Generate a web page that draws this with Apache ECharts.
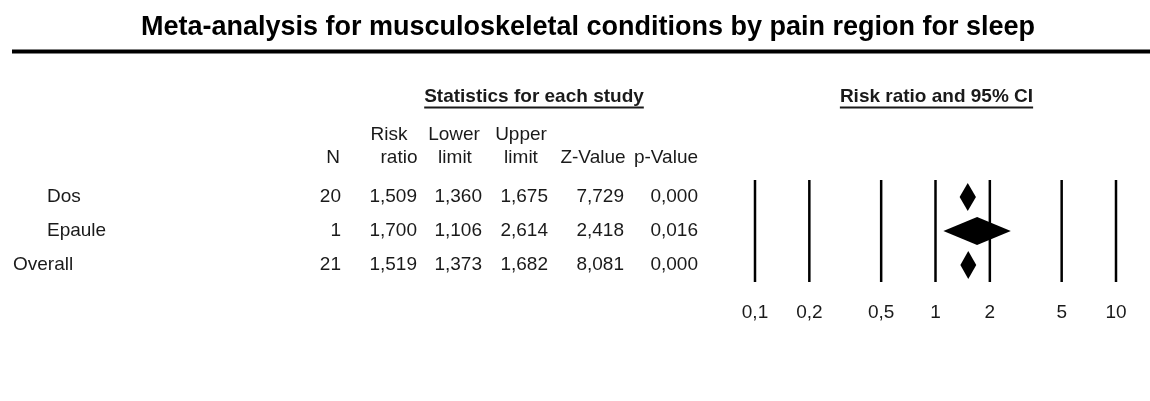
<!DOCTYPE html>
<html><head><meta charset="utf-8">
<script src="https://cdn.jsdelivr.net/npm/echarts@6/dist/echarts.min.js"></script>
<style>html,body{margin:0;padding:0;background:#fff}#c{width:1150px;height:401px}</style>
</head><body><div id="c"></div>
<script>
const chartTitle = 'Meta-analysis for musculoskeletal conditions by pain region for sleep';
const blockTitleStats = 'Statistics for each study';
const blockTitlePlot = 'Risk ratio and 95% CI';
const studies = ['Dos', 'Epaule', 'Overall'];
const isSubgroup = [true, true, false];
const nValues = [20, 1, 21];
const riskRatio = [1.509, 1.700, 1.519];
const lowerLimit = [1.360, 1.106, 1.373];
const upperLimit = [1.675, 2.614, 1.682];
const zValues = [7.729, 2.418, 8.081];
const pValues = [0.000, 0.016, 0.000];
const headLine1 = ['', 'Risk', 'Lower', 'Upper', '', ''];
const headLine2 = ['N', 'ratio', 'limit', 'limit', 'Z-Value', 'p-Value'];
const axisTicks = [0.1, 0.2, 0.5, 1, 2, 5, 10];
const axisTickLabels = ['0,1', '0,2', '0,5', '1', '2', '5', '10'];

const FONT = '"Liberation Sans", Arial, sans-serif';
const TXT = '#1a1a1a';
const fmt = v => v.toFixed(3).replace('.', ',');
const colRight = [341, 417, 482, 548, 624, 698];
const colHead1Center = [333, 389, 454, 521, 593, 666];
const colHead2Center = [333, 399, 455, 521, 593, 666];

function textWidth(t, font) {
  const c = document.createElement('canvas').getContext('2d');
  c.font = font; return c.measureText(t).width;
}

const chart = echarts.init(document.getElementById('c'), null, {renderer: 'canvas'});

const graphics = [];
graphics.push({type: 'text', x: 588, y: 28, style: {text: chartTitle, font: 'bold 27px ' + FONT, fill: '#000', align: 'center', verticalAlign: 'middle'}});
graphics.push({type: 'rect', shape: {x: 12, y: 49.5, width: 1138, height: 4}, style: {fill: '#000'}});
[[blockTitleStats, 534], [blockTitlePlot, 936.5]].forEach(([t, cx]) => {
  const w = textWidth(t, 'bold 19px ' + FONT);
  graphics.push({type: 'text', x: cx, y: 97, style: {text: t, font: 'bold 19px ' + FONT, fill: TXT, align: 'center', verticalAlign: 'middle'}});
  graphics.push({type: 'rect', shape: {x: cx - w / 2, y: 106.5, width: w, height: 2}, style: {fill: TXT}});
});
headLine1.forEach((t, i) => { if (t) graphics.push({type: 'text', x: colHead1Center[i], y: 135, style: {text: t, font: '19px ' + FONT, fill: TXT, align: 'center', verticalAlign: 'middle'}}); });
headLine2.forEach((t, i) => { graphics.push({type: 'text', x: colHead2Center[i], y: 158, style: {text: t, font: '19px ' + FONT, fill: TXT, align: 'center', verticalAlign: 'middle'}}); });

const tableData = studies.map((s, i) => [i + 0.5, i]);
const diamondData = studies.map((s, i) => [riskRatio[i], i + 0.5, lowerLimit[i], upperLimit[i]]);
const tickData = axisTicks.map((v, i) => [v, i]);

chart.setOption({
  animation: false,
  grid: {left: 755, width: 361, top: 180, height: 102},
  xAxis: {type: 'log', logBase: 10, min: 0.1, max: 10, show: false},
  yAxis: {type: 'value', min: 0, max: 3, inverse: true, show: false},
  graphic: graphics,
  series: [
    {
      type: 'custom', clip: false, data: tickData,
      renderItem: (params, api) => {
        const v = api.value(0); const idx = api.value(1);
        const top = api.coord([v, 0]); const bot = api.coord([v, 3]);
        return {type: 'group', children: [
          {type: 'line', shape: {x1: top[0], y1: top[1], x2: bot[0], y2: bot[1]}, style: {stroke: '#000', lineWidth: 2.5}},
          {type: 'text', x: bot[0], y: bot[1] + 31, style: {text: axisTickLabels[idx], font: '19px ' + FONT, fill: TXT, align: 'center', verticalAlign: 'middle'}}
        ]};
      }
    },
    {
      type: 'custom', clip: false, data: diamondData, z: 3,
      renderItem: (params, api) => {
        const c = api.coord([api.value(0), api.value(1)]);
        const l = api.coord([api.value(2), api.value(1)]);
        const u = api.coord([api.value(3), api.value(1)]);
        const h = 14;
        return {type: 'polygon', shape: {points: [[l[0], c[1]], [c[0], c[1] - h], [u[0], c[1]], [c[0], c[1] + h]]}, style: {fill: '#000'}};
      }
    },
    {
      type: 'custom', clip: false, data: tableData,
      renderItem: (params, api) => {
        const i = api.value(1);
        const y = api.coord([1, api.value(0)])[1];
        const vals = [String(nValues[i]), fmt(riskRatio[i]), fmt(lowerLimit[i]), fmt(upperLimit[i]), fmt(zValues[i]), fmt(pValues[i])];
        const children = [{type: 'text', x: isSubgroup[i] ? 47 : 13, y: y, style: {text: studies[i], font: '19px ' + FONT, fill: TXT, align: 'left', verticalAlign: 'middle'}}];
        vals.forEach((t, k) => children.push({type: 'text', x: colRight[k], y: y, style: {text: t, font: '19px ' + FONT, fill: TXT, align: 'right', verticalAlign: 'middle'}}));
        return {type: 'group', children};
      }
    }
  ]
});
</script></body></html>
